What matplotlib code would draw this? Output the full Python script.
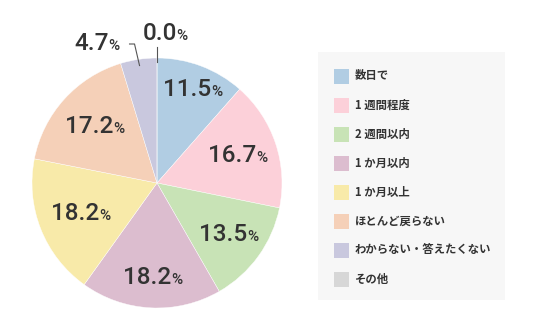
import numpy as np
import matplotlib.pyplot as plt
from matplotlib.patches import Rectangle
from matplotlib.offsetbox import TextArea, HPacker, AnnotationBbox

plt.rcParams['font.family'] = ['Noto Sans CJK JP', 'DejaVu Sans']

categories = ["数日で", "1 週間程度", "2 週間以内", "1 か月以内", "1 か月以上",
              "ほとんど戻らない", "わからない・答えたくない", "その他"]
values = [11.5, 16.7, 13.5, 18.2, 18.2, 17.2, 4.7, 0.0]
colors = ["#b1cde3", "#fcd0d9", "#c8e3b6", "#dcbdcf", "#f8eaa9", "#f5d0b8", "#c9c8de", "#d7d7d7"]

W, H = 536, 332
fig = plt.figure(figsize=(W / 100, H / 100), dpi=100)
ax = fig.add_axes([0, 0, 1, 1])

cx, cy, R = 157, H - 183, 125
ax.pie(values, colors=colors, startangle=90, counterclock=False,
       center=(cx, cy), radius=R, wedgeprops=dict(linewidth=0.3, edgecolor="white"))
ax.set_xlim(0, W)
ax.set_ylim(0, H)
ax.set_aspect("equal")
ax.axis("off")

txt = "#333333"

def pct_label(x, y, v):
    a = TextArea(f"{v:.1f}", textprops=dict(size=17.5, color=txt, family="Roboto", weight="medium"))
    b = TextArea("%", textprops=dict(size=11, color=txt, family="Roboto", weight="medium"))
    box = HPacker(children=[a, b], align="baseline", pad=0, sep=0)
    ax.add_artist(AnnotationBbox(box, (x, y), frameon=False, box_alignment=(0.5, 0.5)))

label_r = [0.8, 0.68, 0.71, 0.76, 0.66, 0.67]
cum = np.cumsum([0] + values)
for i, v in enumerate(values):
    mid = np.deg2rad(90 - (cum[i] + v / 2) * 3.6)
    if i < len(label_r):
        r = label_r[i] * R
        pct_label(cx + r * np.cos(mid), cy + r * np.sin(mid), v)

# outside labels with leader lines
mid6 = np.deg2rad(90 - (cum[6] + values[6] / 2) * 3.6)
px, py = cx + 0.95 * R * np.cos(mid6), cy + 0.95 * R * np.sin(mid6)
ax.plot([px, px - 5, px - 10], [py, H - 44, H - 44], color="#555555", lw=0.8)
pct_label(97, H - 43, values[6])

mid7 = np.deg2rad(90 - (cum[7] + values[7] / 2) * 3.6)
px, py = cx + 0.97 * R * np.cos(mid7), cy + 0.97 * R * np.sin(mid7)
ax.plot([px, px], [py, H - 47], color="#555555", lw=0.8)
pct_label(165, H - 33, values[7])

# legend panel
ax.add_patch(Rectangle((318, H - 300), 187, 248, facecolor="#f7f7f7", edgecolor="none"))
for i, (cat, col) in enumerate(zip(categories, colors)):
    yc = H - (76 + i * 29)
    ax.add_patch(Rectangle((334, yc - 7.5), 15, 15, facecolor=col, edgecolor="none"))
    ax.text(355, yc, cat, fontsize=8.2, color=txt, va="center", ha="left", weight="bold")

fig.savefig("out.png", dpi=100)
